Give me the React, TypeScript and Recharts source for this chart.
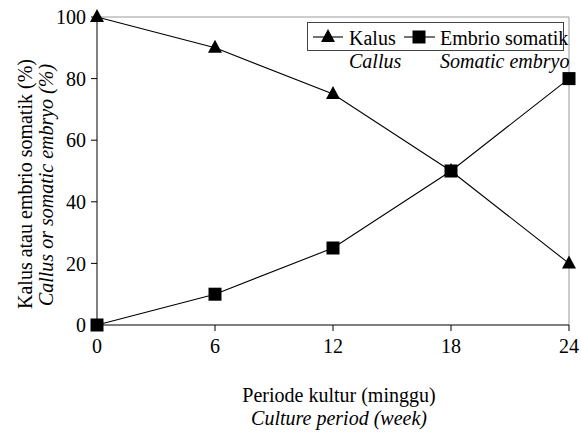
import React from "react";
import { LineChart, Line, XAxis, YAxis, ReferenceLine } from "recharts";

const weeks = [0, 6, 12, 18, 24];
const kalus = [100, 90, 75, 50, 20];
const embrio = [0, 10, 25, 50, 80];
const xTicks = [0, 6, 12, 18, 24];
const yTicks = [0, 20, 40, 60, 80, 100];

const data = weeks.map((w, i) => ({ week: w, kalus: kalus[i], embrio: embrio[i] }));

const FONT = "'Liberation Serif', 'Times New Roman', Tinos, serif";

const Tri = (p: any) => {
  const { cx, cy, index } = p;
  if (cx == null || cy == null) return <g key={`t${index}`} />;
  return (
    <polygon
      key={`t${index}`}
      points={`${cx},${cy - 8} ${cx - 7},${cy + 5} ${cx + 7},${cy + 5}`}
      fill="#000"
    />
  );
};

const Sq = (p: any) => {
  const { cx, cy, index } = p;
  if (cx == null || cy == null) return <g key={`s${index}`} />;
  return <rect key={`s${index}`} x={cx - 6.5} y={cy - 6.5} width={13} height={13} fill="#000" />;
};

const TickText = (p: any) => {
  const { x, y, payload, textAnchor, orientation } = p;
  const isX = orientation === "bottom";
  return (
    <text
      x={x}
      y={y}
      dy={isX ? "0.71em" : "0.355em"}
      textAnchor={textAnchor}
      fill="#000"
      style={{ fontFamily: FONT, fontSize: 20 }}
    >
      {payload.value}
    </text>
  );
};

export default function App() {
  const t = { fill: "#000", fontFamily: FONT, fontSize: 20 } as React.CSSProperties;
  const ti = { ...t, fontStyle: "italic" } as React.CSSProperties;
  return (
    <div style={{ position: "relative", width: 581, height: 441 }}>
      <style>{`body{margin:0;background:#fff}`}</style>
      <LineChart
        width={581}
        height={441}
        data={data}
        margin={{ top: 17, right: 12, bottom: 0, left: 0 }}
      >
        <XAxis
          dataKey="week"
          type="number"
          domain={[0, 24]}
          ticks={xTicks}
          interval={0}
          height={116}
          tickSize={6}
          tickMargin={8}
          axisLine={{ stroke: "#000", strokeWidth: 1 }}
          tickLine={{ stroke: "#000" }}
          tick={<TickText />}
        />
        <YAxis
          type="number"
          domain={[0, 100]}
          ticks={yTicks}
          interval={0}
          width={97}
          tickSize={6}
          tickMargin={5}
          axisLine={{ stroke: "#000", strokeWidth: 1 }}
          tickLine={{ stroke: "#000" }}
          tick={<TickText />}
        />
        <ReferenceLine y={100} stroke="#999" strokeWidth={1} />
        <ReferenceLine x={24} stroke="#999" strokeWidth={1} />
        <Line
          type="linear"
          dataKey="kalus"
          stroke="#000"
          strokeWidth={1.1}
          dot={Tri}
          activeDot={false}
          isAnimationActive={false}
        />
        <Line
          type="linear"
          dataKey="embrio"
          stroke="#000"
          strokeWidth={1.1}
          dot={Sq}
          activeDot={false}
          isAnimationActive={false}
        />
      </LineChart>
      <svg
        width={581}
        height={441}
        style={{ position: "absolute", left: 0, top: 0, pointerEvents: "none" }}
      >
        {/* Y axis title */}
        <text x={32} y={184} textAnchor="middle" transform="rotate(-90 32 184)" style={t}>
          Kalus atau embrio somatik (%)
        </text>
        <text x={53} y={185} textAnchor="middle" transform="rotate(-90 53 185)" style={ti}>
          Callus or somatic embryo (%)
        </text>
        {/* X axis title */}
        <text x={339} y={402} textAnchor="middle" style={t}>
          Periode kultur (minggu)
        </text>
        <text x={339} y={425} textAnchor="middle" style={ti}>
          Culture period (week)
        </text>
        {/* Legend */}
        <rect x={307.5} y={22.5} width={256} height={28} fill="#fff" stroke="#444" strokeWidth={1} />
        <line x1={313} y1={37} x2={343} y2={37} stroke="#000" strokeWidth={1.1} />
        <polygon points="328,29 321,42 335,42" fill="#000" />
        <text x={349} y={45} style={t}>Kalus</text>
        <line x1={404} y1={37} x2={435} y2={37} stroke="#000" strokeWidth={1.1} />
        <rect x={412.5} y={30.5} width={13} height={13} fill="#000" />
        <text x={440} y={45} style={t}>Embrio somatik</text>
        <text x={349} y={68} style={ti}>Callus</text>
        <text x={440} y={68} style={ti}>Somatic embryo</text>
      </svg>
    </div>
  );
}
